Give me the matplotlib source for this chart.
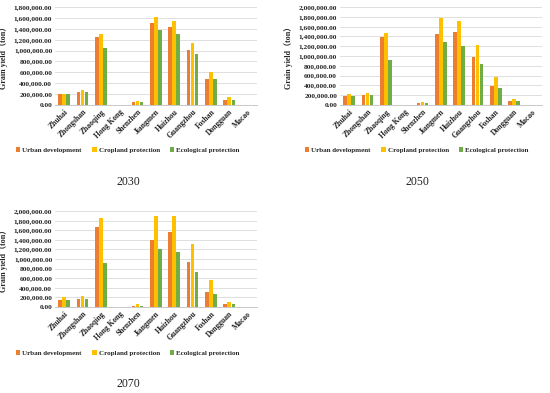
import matplotlib
matplotlib.use("Agg")
import matplotlib.pyplot as plt
import numpy as np
from matplotlib.ticker import FuncFormatter

plt.rcParams['font.family'] = ['Liberation Serif', 'Noto Sans CJK SC']

cities = ["Zhuhai", "Zhongshan", "Zhaoqing", "Hong Kong", "Shenzhen", "Jiangmen",
          "Huizhou", "Guangzhou", "Foshan", "Dongguan", "Macao"]
series_names = ["Urban development", "Cropland protection", "Ecological protection"]
colors = ["#ED7D31", "#FFC000", "#70AD47"]

urban_2030 = [195000, 240000, 1247000, 5000, 55000, 1499000, 1431000, 1007000, 485000, 98000, 0]
crop_2030 = [210000, 275000, 1308000, 6000, 80000, 1615000, 1536000, 1136000, 608000, 141000, 0]
eco_2030 = [195000, 240000, 1044000, 5000, 55000, 1382000, 1296000, 946000, 479000, 98000, 0]

urban_2050 = [177000, 205000, 1379000, 0, 41000, 1454000, 1495000, 976000, 396000, 82000, 0]
crop_2050 = [218000, 239000, 1468000, 0, 61000, 1768000, 1720000, 1222000, 580000, 130000, 0]
eco_2050 = [177000, 205000, 928000, 0, 41000, 1290000, 1201000, 840000, 348000, 82000, 0]

urban_2070 = [152000, 172000, 1662000, 0, 28000, 1400000, 1559000, 931000, 310000, 62000, 0]
crop_2070 = [207000, 221000, 1848000, 0, 55000, 1890000, 1897000, 1303000, 552000, 110000, 0]
eco_2070 = [152000, 172000, 917000, 0, 28000, 1207000, 1145000, 731000, 269000, 62000, 0]

panels = [
    ("2030", [urban_2030, crop_2030, eco_2030], 1800000, [0.1, 0.733, 0.367, 0.249], (128, 150, 182)),
    ("2050", [urban_2050, crop_2050, eco_2050], 2000000, [0.618, 0.733, 0.367, 0.249], (417, 150, 182)),
    ("2070", [urban_2070, crop_2070, eco_2070], 2000000, [0.1, 0.219, 0.367, 0.244], (128, 353, 384)),
]

W, H = 550, 393
fig = plt.figure(figsize=(5.5, 3.93), dpi=100)

x = np.arange(len(cities))
bw = 0.2
offsets = [-0.22, 0.0, 0.22]
tc = '#262626'

for title, data, ymax, rect, (cx, ly, ty) in panels:
    ax = fig.add_axes(rect)
    handles = []
    for vals, off, col, name in zip(data, offsets, colors, series_names):
        h = ax.bar(x + off, vals, width=bw, color=col, label=name, zorder=3)
        handles.append(h)
    ax.set_xlim(-0.5, len(cities) - 0.5)
    ax.set_ylim(0, ymax)
    ax.set_yticks(np.arange(0, ymax + 1, 200000))
    ax.yaxis.set_major_formatter(FuncFormatter(lambda v, p: f"{v:,.2f}"))
    ax.grid(axis='y', color='#d9d9d9', linewidth=0.6, zorder=0)
    for s in ['top', 'right', 'left']:
        ax.spines[s].set_visible(False)
    ax.spines['bottom'].set_color('#bfbfbf')
    ax.spines['bottom'].set_linewidth(0.6)
    ax.tick_params(axis='both', length=0, pad=2)
    ax.set_xticks(x)
    ax.set_xticklabels(cities, rotation=45, ha='right', rotation_mode='anchor',
                       fontsize=5.5, fontweight='bold', color=tc)
    for lbl in ax.get_yticklabels():
        lbl.set_fontsize(5.3)
        lbl.set_fontweight('bold')
        lbl.set_color(tc)
    ax.set_ylabel("Grain yield（ton）", fontsize=5.8, fontweight='bold', color=tc, labelpad=4)
    fig.legend(handles=handles, labels=series_names, loc='center',
               bbox_to_anchor=(cx / W, 1 - ly / H), ncol=3, frameon=False,
               prop={'size': 5, 'weight': 'bold'}, handlelength=0.6, handleheight=0.6,
               handletextpad=0.3, columnspacing=1.5, labelcolor=tc)
    fig.text(cx / W, 1 - ty / H, title, ha='center', va='center', fontsize=8.5, color='#222222')

fig.savefig("out.png", dpi=100)
